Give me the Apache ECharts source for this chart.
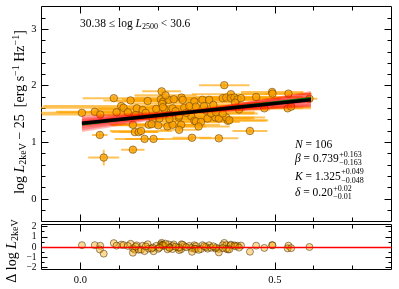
<!DOCTYPE html>
<html><head><meta charset="utf-8">
<script src="https://cdn.jsdelivr.net/npm/echarts@6/dist/echarts.min.js"></script>
<style>html,body{margin:0;padding:0;background:#fff}#c{width:399px;height:289px}</style>
</head><body><div id="c"></div>
<script>
// ---- data ----
const xVals = [0.004,0.037,0.051,0.086,0.129,0.105,0.111,0.093,0.145,0.160,
  0.173,0.050,0.135,0.140,0.150,0.156,0.165,0.135,0.060,0.176,
  0.209,0.207,0.213,0.210,0.227,0.240,0.260,0.293,0.314,0.331,
  0.370,0.366,0.375,0.195,0.216,0.237,0.267,0.280,0.297,0.229,
  0.253,0.285,0.293,0.297,0.310,0.327,0.347,0.356,0.200,0.224,
  0.237,0.259,0.254,0.304,0.188,0.287,0.356,0.379,0.387,0.387,
  0.396,0.404,0.413,0.452,0.493,0.494,0.535,0.589,0.473,0.533,
  0.542,0.375,0.383,0.436,0.122,0.212,0.254,0.323,0.336,0.349,
  0.366,0.186,0.203,0.229,0.183,0.219,0.263,0.245,0.272,0.318,
  0.342,0.398,0.408,0.142,0.168];
const yVals = [1.52,1.54,1.49,1.78,1.74,1.64,1.61,1.53,1.60,1.57,
  1.73,1.13,1.31,1.18,1.18,1.20,1.06,0.87,0.73,1.31,
  1.90,1.76,1.72,1.68,1.75,1.76,1.79,1.72,1.75,1.75,
  2.01,1.78,1.79,1.59,1.59,1.60,1.61,1.64,1.63,1.48,
  1.44,1.46,1.38,1.37,1.36,1.42,1.44,1.42,1.30,1.28,
  1.31,1.31,1.22,1.28,1.06,1.08,1.07,1.38,1.85,1.78,
  1.79,1.76,1.78,1.80,1.89,1.86,1.86,1.77,1.60,1.60,
  1.63,1.44,1.39,1.20,1.53,1.62,1.47,1.56,1.51,1.53,
  1.51,1.41,1.42,1.41,1.32,1.83,1.75,1.55,1.52,1.64,
  1.66,1.70,1.58,1.48,1.52];
const xErr = [0.12,0.10,0.15,0.08,0.07,0.20,0.25,0.15,0.10,0.12,
  0.06,0.02,0.05,0.06,0.05,0.08,0.05,0.03,0.04,0.10,
  0.05,0.10,0.12,0.08,0.10,0.08,0.12,0.10,0.15,0.12,
  0.065,0.15,0.13,0.15,0.10,0.09,0.12,0.10,0.08,0.10,
  0.12,0.08,0.10,0.06,0.10,0.12,0.10,0.08,0.12,0.10,
  0.06,0.10,0.05,0.08,0.10,0.05,0.05,0.10,0.10,0.12,
  0.10,0.08,0.10,0.12,0.08,0.08,0.06,0.02,0.10,0.06,
  0.05,0.10,0.10,0.045,0.10,0.10,0.10,0.10,0.12,0.10,
  0.08,0.12,0.10,0.10,0.08,0.08,0.10,0.08,0.10,0.10,
  0.08,0.10,0.08,0.10,0.10];
const yErr = [0.04,0.04,0.04,0.04,0.04,0.04,0.04,0.04,0.04,0.04,
  0.04,0.06,0.04,0.04,0.04,0.04,0.04,0.06,0.14,0.04,
  0.04,0.04,0.04,0.04,0.04,0.04,0.04,0.04,0.04,0.04,
  0.04,0.04,0.04,0.04,0.04,0.04,0.04,0.04,0.04,0.04,
  0.04,0.04,0.04,0.04,0.04,0.04,0.04,0.04,0.04,0.04,
  0.04,0.04,0.04,0.04,0.04,0.04,0.04,0.04,0.04,0.04,
  0.04,0.04,0.04,0.04,0.04,0.04,0.04,0.04,0.04,0.04,
  0.04,0.04,0.04,0.04,0.04,0.04,0.04,0.04,0.04,0.04,
  0.04,0.04,0.04,0.04,0.04,0.04,0.04,0.04,0.04,0.04,
  0.04,0.04,0.04,0.04,0.04];
const residVals = [0.18,0.18,0.12,0.38,0.31,0.23,0.19,0.13,0.16,0.12,
  0.27,-0.24,-0.12,-0.26,-0.27,-0.25,-0.40,-0.56,-0.65,-0.16,
  0.41,0.27,0.23,0.19,0.25,0.25,0.26,0.17,0.18,0.17,
  0.40,0.18,0.18,0.11,0.10,0.09,0.08,0.10,0.08,-0.02,
  -0.08,-0.09,-0.17,-0.18,-0.20,-0.16,-0.15,-0.18,-0.18,-0.22,
  -0.20,-0.22,-0.30,-0.28,-0.41,-0.47,-0.53,-0.24,0.23,0.16,
  0.16,0.13,0.14,0.13,0.19,0.16,0.13,0.00,-0.09,-0.13,
  -0.11,-0.17,-0.23,-0.46,0.11,0.13,-0.05,-0.01,-0.07,-0.06,
  -0.10,-0.06,-0.07,-0.09,-0.15,0.33,0.22,0.03,-0.02,0.07,
  0.07,0.07,-0.06,0.04,0.06];
// fit lines (end points)
const fitX = [0.004, 0.593];
const fitBlackY = [1.335, 1.752];
const fitGreenY = [1.315, 1.785];
const bandLeftY  = [1.45,1.21,1.42,1.24,1.39,1.28,1.36,1.31,1.34,1.33,1.40,1.26,1.37,1.30,1.35,1.32];
const bandRightY = [1.64,1.88,1.67,1.85,1.70,1.82,1.73,1.79,1.76,1.75,1.66,1.86,1.72,1.80,1.74,1.78];
// ticks
const xMajor = [0, 0.5];
const xMinor = [0.1, 0.2, 0.3, 0.4, 0.6, 0.7];
const yMajor = [0, 1, 2, 3];
const yMinor = [-0.2, 0.2, 0.4, 0.6, 0.8, 1.2, 1.4, 1.6, 1.8, 2.2, 2.4, 2.6, 2.8, 3.2];
const rMajor = [-2, -1, 0, 1, 2];
const rMinor = [-1.5, -0.5, 0.5, 1.5];
const annLines = [
  {lhs: 'N', val: '106'},
  {lhs: 'β', val: '0.739', up: '+0.163', dn: '−0.163'},
  {lhs: 'K', val: '1.325', up: '+0.049', dn: '−0.048'},
  {lhs: 'δ', val: '0.20', up: '+0.02', dn: '−0.01'}
];

// ---- chart ----
const FONT = "'Liberation Serif','Times New Roman',serif";
const chart = echarts.init(document.getElementById('c'), null, {renderer: 'canvas'});

function mkAxis(gi, pos, min, max, ticks, len, labels, fmt, lsize) {
  return {
    type: 'value', gridIndex: gi, position: pos, min: min, max: max,
    axisLine: {show: false, onZero: false}, splitLine: {show: false},
    axisTick: {show: true, inside: true, length: len, customValues: ticks,
      lineStyle: {color: '#000', width: 1}},
    axisLabel: labels ? {show: true, customValues: labels, formatter: fmt,
      fontFamily: FONT, fontSize: lsize || 10.5, color: '#000', margin: 5} : {show: false}
  };
}
const fx = v => v.toFixed(1);
const fy = v => String(Math.round(v));
const fr = v => (v < 0 ? '−' : '') + Math.abs(Math.round(v));

const xAxes = [
  mkAxis(0, 'bottom', -0.1, 0.8, xMajor, 7),
  mkAxis(0, 'bottom', -0.1, 0.8, xMinor, 4),
  mkAxis(0, 'top', -0.1, 0.8, xMajor, 7),
  mkAxis(0, 'top', -0.1, 0.8, xMinor, 4),
  mkAxis(1, 'bottom', -0.1, 0.8, xMajor, 7, xMajor, fx),
  mkAxis(1, 'bottom', -0.1, 0.8, xMinor, 4),
  mkAxis(1, 'top', -0.1, 0.8, xMajor, 7),
  mkAxis(1, 'top', -0.1, 0.8, xMinor, 4)
];
const yAxes = [
  mkAxis(0, 'left', -0.4, 3.4, yMajor, 7, yMajor, fy),
  mkAxis(0, 'left', -0.4, 3.4, yMinor, 4),
  mkAxis(0, 'right', -0.4, 3.4, yMajor, 7),
  mkAxis(0, 'right', -0.4, 3.4, yMinor, 4),
  mkAxis(1, 'left', -2.2, 2.2, rMajor, 6, rMajor, fr, 9.5),
  mkAxis(1, 'left', -2.2, 2.2, rMinor, 3),
  mkAxis(1, 'right', -2.2, 2.2, rMajor, 6),
  mkAxis(1, 'right', -2.2, 2.2, rMinor, 3)
];

const series = [];
// error bars
series.push({
  type: 'custom', xAxisIndex: 0, yAxisIndex: 0, clip: true, z: 1, silent: true,
  data: xVals.map((v, i) => [v, yVals[i], xErr[i], yErr[i]]),
  encode: {x: 0, y: 1},
  renderItem: function (params, api) {
    const x = api.value(0), y = api.value(1), ex = api.value(2), ey = api.value(3);
    const l = api.coord([x - ex, y]), r = api.coord([x + ex, y]);
    const b = api.coord([x, y - ey]), t = api.coord([x, y + ey]);
    const st = {stroke: 'rgba(255,165,0,0.65)', lineWidth: 2};
    return {type: 'group', children: [
      {type: 'line', shape: {x1: l[0], y1: l[1], x2: r[0], y2: r[1]}, style: st},
      {type: 'line', shape: {x1: b[0], y1: b[1], x2: t[0], y2: t[1]}, style: st}
    ]};
  }
});
// points
series.push({
  type: 'scatter', xAxisIndex: 0, yAxisIndex: 0, z: 2, silent: true,
  symbolSize: 7.5,
  itemStyle: {color: 'rgba(250,160,0,0.92)', borderColor: 'rgba(110,70,0,0.75)', borderWidth: 1},
  data: xVals.map((v, i) => [v, yVals[i]])
});
// band of fit samples
bandLeftY.forEach((ly, i) => {
  series.push({
    type: 'line', xAxisIndex: 0, yAxisIndex: 0, z: 3, silent: true, symbol: 'none',
    lineStyle: {color: 'rgba(255,0,0,0.27)', width: 3},
    data: [[fitX[0], ly], [fitX[1], bandRightY[i]]]
  });
});
series.push({
  type: 'line', xAxisIndex: 0, yAxisIndex: 0, z: 4, silent: true, symbol: 'none',
  lineStyle: {color: '#008000', width: 2},
  data: [[fitX[0], fitGreenY[0]], [fitX[1], fitGreenY[1]]]
});
series.push({
  type: 'line', xAxisIndex: 0, yAxisIndex: 0, z: 5, silent: true, symbol: 'none',
  lineStyle: {color: '#000', width: 3.5},
  data: [[fitX[0], fitBlackY[0]], [fitX[1], fitBlackY[1]]]
});
// residuals
series.push({
  type: 'scatter', xAxisIndex: 4, yAxisIndex: 4, z: 2, silent: true,
  symbolSize: 7,
  itemStyle: {color: 'rgba(255,165,0,0.5)', borderColor: 'rgba(60,40,0,0.65)', borderWidth: 1},
  data: xVals.map((v, i) => [v, residVals[i]]),
  markLine: {silent: true, symbol: 'none', animation: false, label: {show: false},
    lineStyle: {color: '#ff0000', width: 1.3, type: 'solid'}, data: [{yAxis: 0}]}
});

// ---- text ----
const cv = document.createElement('canvas').getContext('2d');
function tw(t, f) { cv.font = f; return cv.measureText(t).width; }
const AF = 11.5;
const graphics = [];
const baseRich = {
  n: {fontSize: AF, fontFamily: FONT, fill: '#000'},
  i: {fontSize: AF, fontFamily: FONT, fontStyle: 'italic', fill: '#000'},
  sb: {fontSize: 8, fontFamily: FONT, fill: '#000', padding: [6, 0, 0, 0]}
};
graphics.push({
  type: 'text', x: 80, y: 24, silent: true,
  style: {text: '{n|30.38 ≤ log }{i|L}{sb|2500}{n| < 30.6}', rich: baseRich,
    align: 'left', verticalAlign: 'middle', textAlign: 'left', textVerticalAlign: 'middle'}
});
const annY = [145, 159, 176.5, 193];
annLines.forEach((a, k) => {
  const x0 = 295;
  graphics.push({
    type: 'text', x: x0, y: annY[k], silent: true,
    style: {text: '{i|' + a.lhs + '}{n| = ' + a.val + '}', rich: baseRich,
      align: 'left', verticalAlign: 'middle', textAlign: 'left', textVerticalAlign: 'middle'}
  });
  if (a.up) {
    const w = tw(a.lhs, 'italic ' + AF + "px 'Liberation Serif'") + tw(' = ' + a.val, AF + "px 'Liberation Serif'");
    const sx = x0 + w + 0.5;
    graphics.push({type: 'text', x: sx, y: annY[k] - 4.5, silent: true,
      style: {text: a.up, fontSize: 8, fontFamily: FONT, fill: '#000', align: 'left', verticalAlign: 'middle',
        textAlign: 'left', textVerticalAlign: 'middle'}});
    graphics.push({type: 'text', x: sx, y: annY[k] + 4, silent: true,
      style: {text: a.dn, fontSize: 8, fontFamily: FONT, fill: '#000', align: 'left', verticalAlign: 'middle',
        textAlign: 'left', textVerticalAlign: 'middle'}});
  }
});
const TF = 14;
const titleRich = {
  r: {fontSize: TF, fontFamily: FONT, fill: '#000'},
  i: {fontSize: TF, fontFamily: FONT, fontStyle: 'italic', fill: '#000'},
  sb: {fontSize: 10, fontFamily: FONT, fill: '#000', padding: [7, 0, 0, 0]},
  sp: {fontSize: 10, fontFamily: FONT, fill: '#000', padding: [0, 0, 8, 0]}
};
graphics.push({
  type: 'text', x: 20, y: 112, rotation: Math.PI / 2, silent: true,
  style: {text: '{r|log }{i|L}{sb|2keV}{r| − 25  [erg s}{sp|−1}{r| Hz}{sp|−1}{r|]}', rich: titleRich,
    align: 'center', verticalAlign: 'middle', textAlign: 'center', textVerticalAlign: 'middle'}
});
graphics.push({
  type: 'text', x: 12, y: 251, rotation: Math.PI / 2, silent: true,
  style: {text: '{r|Δ log }{i|L}{sb|2keV}', rich: titleRich,
    align: 'center', verticalAlign: 'middle', textAlign: 'center', textVerticalAlign: 'middle'}
});

chart.setOption({
  animation: false,
  backgroundColor: '#fff',
  grid: [
    {left: 41.5, right: 7.5, top: 6.5, height: 215, show: true, borderColor: '#000', borderWidth: 1, backgroundColor: 'transparent'},
    {left: 41.5, right: 7.5, top: 224.5, height: 45, show: true, borderColor: '#000', borderWidth: 1, backgroundColor: 'transparent'}
  ],
  xAxis: xAxes,
  yAxis: yAxes,
  series: series,
  graphic: {elements: graphics}
});
</script>
</body></html>
